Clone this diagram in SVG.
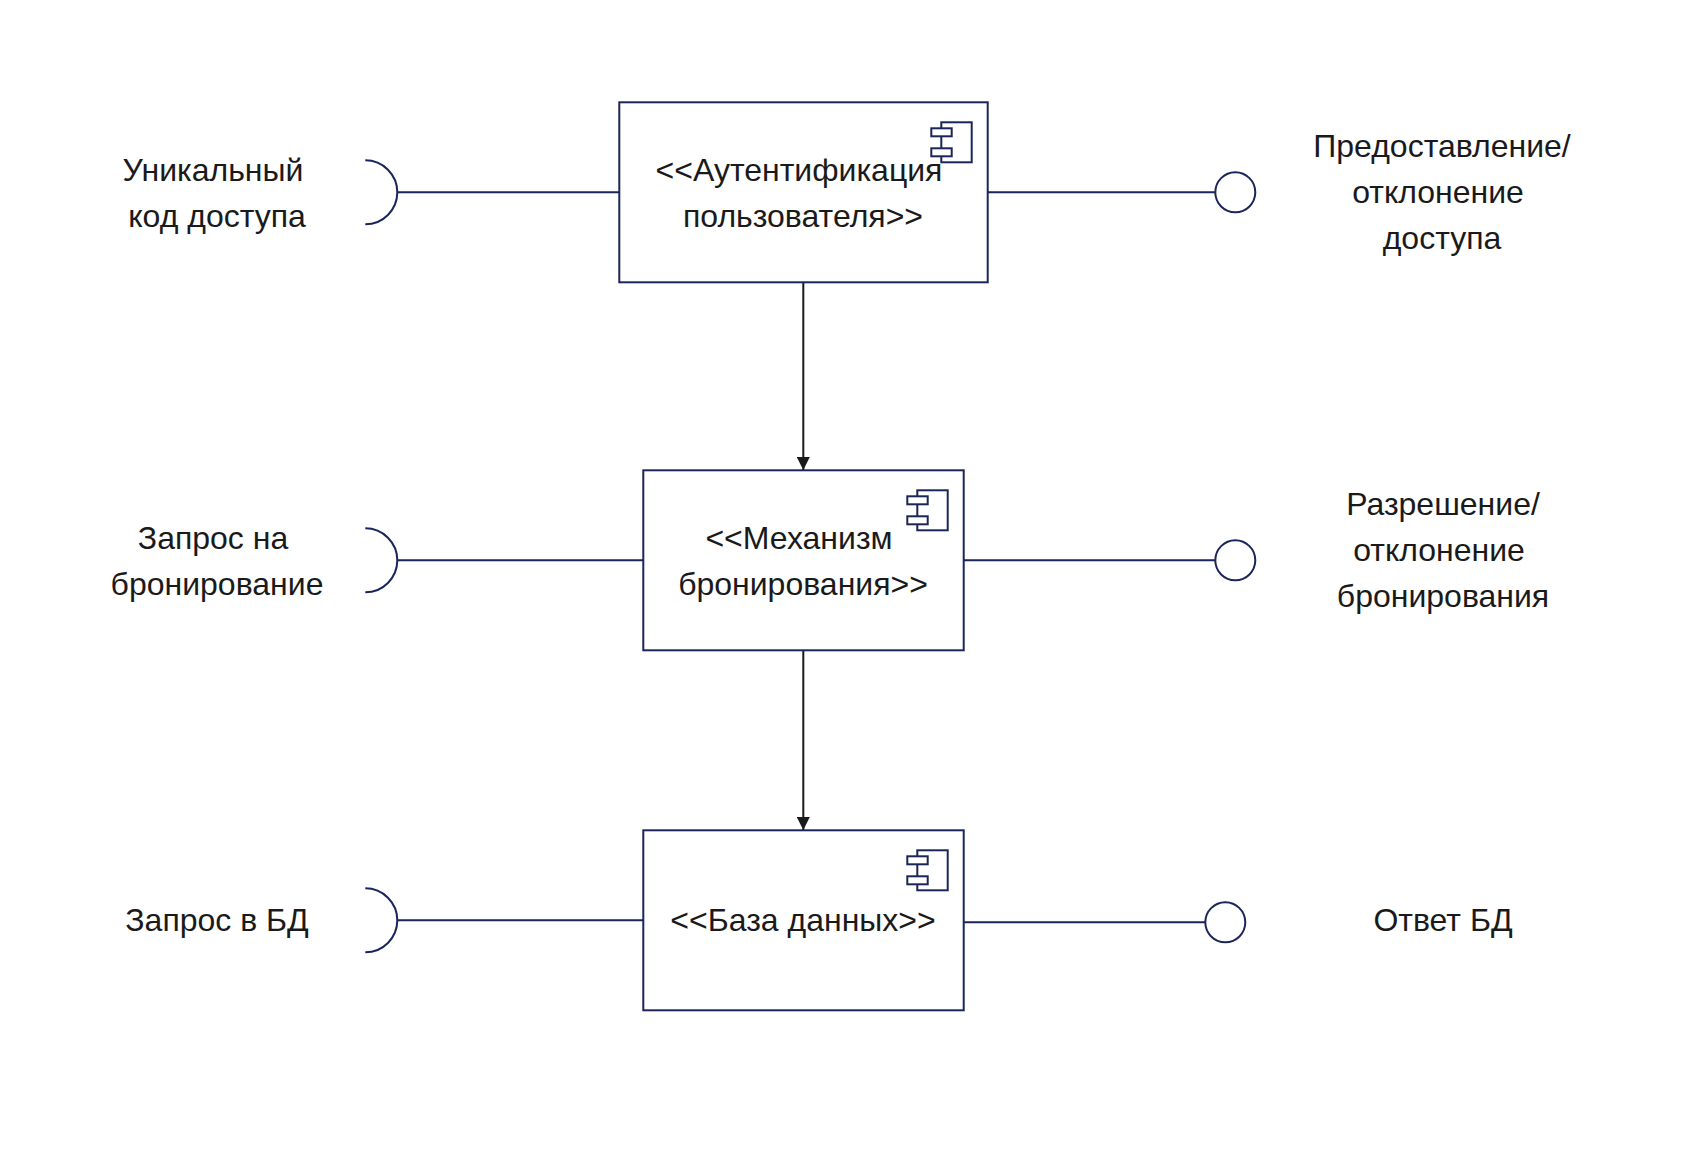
<svg xmlns="http://www.w3.org/2000/svg" width="1704" height="1164" viewBox="0 0 1704 1164">
<style>
.s{fill:none;stroke:#1b2559;stroke-width:2}
.b{fill:#fff;stroke:#1b2559;stroke-width:2}
.c{fill:none;stroke:#1a1a1a;stroke-width:2}
text{font-family:"Liberation Sans",Arial,sans-serif;font-size:32px;fill:#1a1a1a;text-anchor:middle}
</style>
<defs>
<marker id="a" markerUnits="userSpaceOnUse" markerWidth="14" markerHeight="13" refX="13" refY="6.5" orient="auto"><path d="M0 0L13 6.5L0 13Z" fill="#1a1a1a"/></marker>
<g id="ic"><rect class="s" x="10" y="0" width="30.4" height="40"/><rect class="b" x="0" y="6" width="20.4" height="8"/><rect class="b" x="0" y="26" width="20.4" height="8"/></g>
</defs>
<rect width="1704" height="1164" fill="#fff"/>
<g id="connectors">
<path class="c" d="M803.3 282.3V470" marker-end="url(#a)"/>
<path class="c" d="M803.3 650.3V830" marker-end="url(#a)"/>
<path class="s" d="M397.7 192.3H619M987.7 192.3H1215.3M397.7 560.3H643M963.7 560.3H1215.3M397.7 920.3H643M963.7 922.3H1205.3"/>
</g>
<g id="comp1"><rect class="b" x="619.3" y="102.3" width="368.4" height="180"/><use href="#ic" x="931.3" y="122.3"/><text x="799" y="181">&lt;&lt;Аутентификация</text><text x="803" y="227">пользователя&gt;&gt;</text></g>
<g id="comp2"><rect class="b" x="643.3" y="470.3" width="320.4" height="180"/><use href="#ic" x="907.3" y="490.3"/><text x="799" y="549">&lt;&lt;Механизм</text><text x="803" y="595">бронирования&gt;&gt;</text></g>
<g id="comp3"><rect class="b" x="643.3" y="830.3" width="320.4" height="180"/><use href="#ic" x="907.3" y="850.3"/><text x="803" y="931">&lt;&lt;База данных&gt;&gt;</text></g>
<g id="req1"><path class="s" d="M365.3 160.3A32 32 0 0 1 365.3 224.3"/><text x="213" y="181">Уникальный</text><text x="217" y="227">код доступа</text></g>
<g id="req2"><path class="s" d="M365.3 528.3A32 32 0 0 1 365.3 592.3"/><text x="213" y="549">Запрос на</text><text x="217" y="595">бронирование</text></g>
<g id="req3"><path class="s" d="M365.3 888.3A32 32 0 0 1 365.3 952.3"/><text x="217" y="931">Запрос в БД</text></g>
<g id="prov1"><circle class="s" cx="1235.3" cy="192.3" r="20"/><text x="1442" y="157">Предоставление/</text><text x="1438" y="203">отклонение</text><text x="1442" y="249">доступа</text></g>
<g id="prov2"><circle class="s" cx="1235.3" cy="560.3" r="20"/><text x="1443" y="515">Разрешение/</text><text x="1439" y="561">отклонение</text><text x="1443" y="607">бронирования</text></g>
<g id="prov3"><circle class="s" cx="1225.3" cy="922.3" r="20"/><text x="1443" y="931">Ответ БД</text></g>
</svg>
